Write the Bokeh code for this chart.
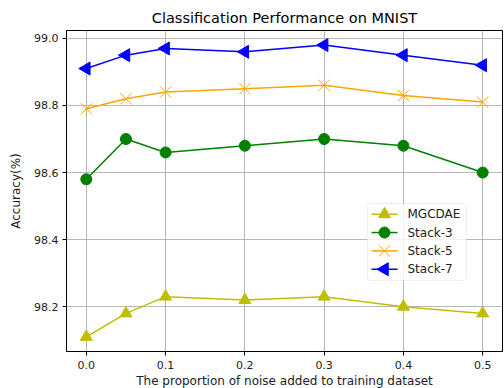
import numpy as np
from bokeh.plotting import figure
from bokeh.models import Range1d, FixedTicker, PrintfTickFormatter, BoxAnnotation, Label
from bokeh.embed import file_html
from bokeh.resources import INLINE

noise = [0.0, 0.05, 0.1, 0.2, 0.3, 0.4, 0.5]
mgcdae = [98.11, 98.18, 98.23, 98.22, 98.23, 98.20, 98.18]
stack3 = [98.58, 98.70, 98.66, 98.68, 98.70, 98.68, 98.60]
stack5 = [98.79, 98.82, 98.84, 98.85, 98.86, 98.83, 98.81]
stack7 = [98.91, 98.95, 98.97, 98.96, 98.98, 98.95, 98.92]
series_names = ["MGCDAE", "Stack-3", "Stack-5", "Stack-7"]
x_ticks = [0.0, 0.1, 0.2, 0.3, 0.4, 0.5]
y_ticks = [98.2, 98.4, 98.6, 98.8, 99.0]

FONT = "DejaVu Sans"
FW, FH = 436, 321

allv = mgcdae + stack3 + stack5 + stack7
ymin, ymax = min(allv), max(allv)
ypad = (ymax - ymin) * 0.05
xpad = (max(noise) - min(noise)) * 0.05
xr = Range1d(min(noise) - xpad, max(noise) + xpad)
yr = Range1d(ymin - ypad, ymax + ypad)

p = figure(frame_width=FW, frame_height=FH, output_backend="svg", toolbar_location=None,
           x_range=xr, y_range=yr,
           min_border_left=66, min_border_right=2, min_border_top=30, min_border_bottom=37)

p.title.text = "Classification Performance on MNIST"
p.title.align = "center"
p.title.text_font = FONT
p.title.text_font_size = "14.5px"
p.title.text_font_style = "normal"
p.title.text_color = "black"
p.title.offset = 0
p.title.standoff = 9

p.outline_line_color = "black"
p.outline_line_width = 1
p.outline_line_alpha = 1

for ax in (p.xaxis[0], p.yaxis[0]):
    ax.axis_line_color = "black"
    ax.major_tick_line_color = "black"
    ax.minor_tick_line_color = None
    ax.major_tick_in = 0
    ax.major_tick_out = 4
    ax.major_label_text_font = FONT
    ax.major_label_text_font_size = "11px"
    ax.major_label_text_color = "#222222"
    ax.axis_label_text_font = FONT
    ax.axis_label_text_font_size = "12px"
    ax.axis_label_text_font_style = "normal"
    ax.axis_label_text_color = "#222222"
    ax.formatter = PrintfTickFormatter(format="%.1f")

p.xaxis.ticker = FixedTicker(ticks=x_ticks)
p.yaxis.ticker = FixedTicker(ticks=y_ticks)
p.xaxis.axis_label = "The proportion of noise added to training dataset"
p.yaxis.axis_label = "Accuracy(%)"
p.xaxis.major_label_standoff = 5
p.xaxis.axis_label_standoff = 2
p.yaxis.major_label_standoff = 4
p.yaxis.axis_label_standoff = 8

p.xgrid.grid_line_color = "#b0b0b0"
p.ygrid.grid_line_color = "#b0b0b0"
p.xgrid.grid_line_width = 0.9
p.ygrid.grid_line_width = 0.9

styles = [
    ("#bfbf00", "triangle", 12, 0.0),
    ("#008000", "circle", 11, 0.0),
    ("#ffa500", "x", 16, 0.0),
    ("#0000ff", "triangle", 13, np.pi / 2),
]
values = [mgcdae, stack3, stack5, stack7]

for vals, (color, marker, size, ang) in zip(values, styles):
    p.line(noise, vals, line_color=color, line_width=1.5)
    p.scatter(noise, vals, marker=marker, size=size, angle=ang,
              fill_color=color, line_color=color, line_width=1)


# --- legend (drawn by hand so that the left-pointing triangle shows correctly) ---
def dx(px):
    return xr.start + px * (xr.end - xr.start) / FW


def dy(py):
    return yr.start + py * (yr.end - yr.start) / FH


box = BoxAnnotation(left=dx(301), right=dx(400), bottom=dy(71), top=dy(148),
                    fill_color="white", fill_alpha=0.8, line_color="#cccccc",
                    line_width=1, border_radius=3)
p.add_layout(box)

row_top, row_step = 137.3, 18.35
for i, (name, (color, marker, size, ang)) in enumerate(zip(series_names, styles)):
    ry = dy(row_top - i * row_step)
    p.line([dx(305), dx(331)], [ry, ry], line_color=color, line_width=1.5, level="overlay")
    p.scatter([dx(318)], [ry], marker=marker, size=size, angle=ang,
              fill_color=color, line_color=color, line_width=1, level="overlay")
    p.add_layout(Label(x=dx(341), y=ry, text=name, text_font=FONT, text_font_size="12px",
                       text_color="#222222", text_baseline="middle", text_align="left"))

open("out.html", "w").write(file_html(p, INLINE))
